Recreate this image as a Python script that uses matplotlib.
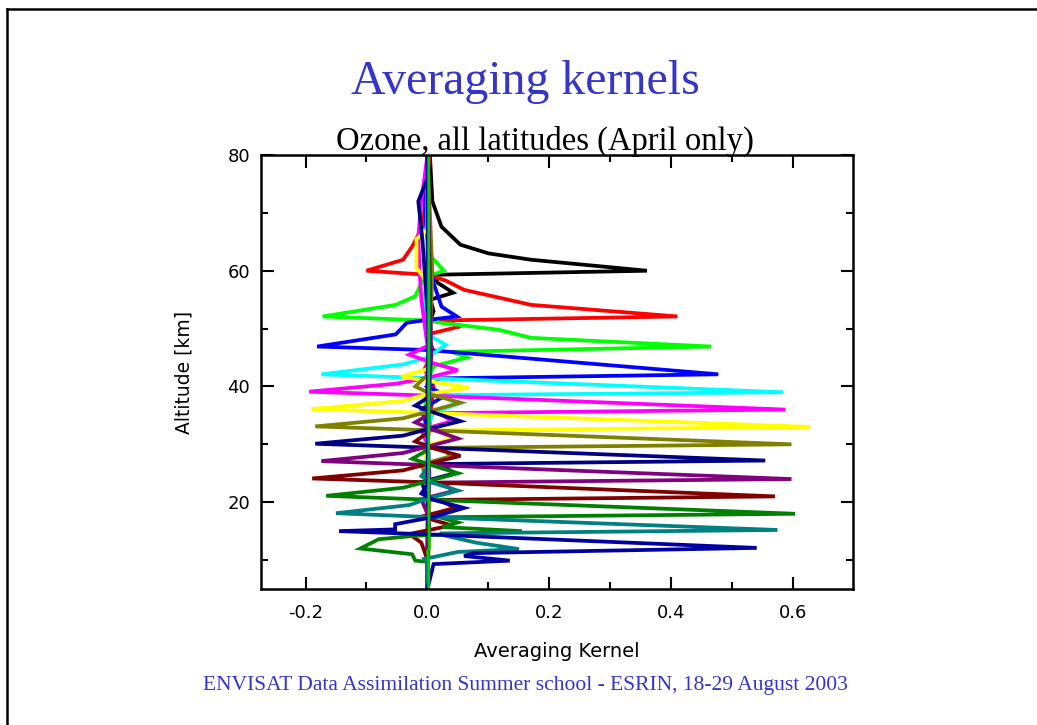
import matplotlib
matplotlib.use("Agg")
import matplotlib.pyplot as plt
from matplotlib.lines import Line2D
from matplotlib.ticker import MultipleLocator

plt.rcParams['axes.unicode_minus'] = False

# kernel colours, top kernel first
colors = ['black', 'red', '#00ff00', '#0000ff', '#00ffff', '#ff00ff', '#ffff00',
          '#808000', '#000080', '#800080', '#800000', '#008000', '#008080', '#0000a0']

# averaging kernels: altitude [km] and kernel value
alt_60 = [5, 20, 35, 45, 50, 53, 55, 56.2, 57.9, 59.3, 60, 61.9, 63, 64.5, 67.6, 72, 80]
ak_60 = [0.0, 0.002, 0.0, 0.005, 0.0, 0.01, 0.005, 0.042, 0.017, 0.01, 0.36, 0.17, 0.1, 0.054, 0.023, 0.008, 0.004]

alt_52 = [5, 20, 30, 40, 43, 46, 49, 50.4, 51.4, 52.1, 54.1, 56.7, 58.3, 59.3, 60, 61.9, 64.2, 67.6, 75, 80]
ak_52 = [0.0, 0.002, 0.0, 0.01, -0.005, 0.01, 0.0, 0.055, 0.02, 0.41, 0.17, 0.06, 0.03, 0.0, -0.1, -0.04, -0.025, -0.008, 0.0, 0.003]

alt_47 = [5, 15, 25, 35, 41, 43.5, 45, 46, 46.9, 48.4, 49.8, 51.0, 51.4, 52.1, 54.1, 55.6, 57.9, 59, 60, 62.5, 69, 80]
ak_47 = [0.0, 0.0, 0.002, -0.005, 0.0, 0.01, 0.065, 0.04, 0.465, 0.17, 0.117, 0.023, 0.0, -0.172, -0.052, -0.02, -0.01, 0.0, 0.027, 0.005, 0.0, 0.0]

alt_42 = [5, 15, 25, 33, 36, 38.5, 40, 41.4, 42.1, 46.3, 46.9, 49, 51, 51.4, 52.1, 53.8, 57.9, 65, 72, 80]
ak_42 = [0.0, 0.0, 0.003, 0.0, -0.01, 0.03, 0.0, 0.02, 0.477, 0.0, -0.181, -0.052, -0.034, -0.008, 0.048, 0.023, 0.01, 0.0, -0.005, 0.0]

alt_39 = [5, 15, 25, 30, 33, 35.5, 37, 38.5, 39, 41.4, 42.1, 43.8, 45, 47.2, 49, 55, 65, 80]
ak_39 = [0.0, 0.002, 0.0, -0.005, 0.0, 0.01, 0.05, 0.02, 0.583, 0.01, -0.174, -0.04, 0.0, 0.03, 0.0, -0.005, 0.0, 0.0]

alt_36 = [5, 15, 25, 30, 32.5, 34, 35.4, 36, 38.4, 39.1, 40.5, 41.5, 42.8, 44, 45.5, 47, 55, 60, 66, 72, 80]
ak_36 = [0.0, 0.0, 0.002, 0.0, -0.01, 0.04, 0.02, 0.587, 0.01, -0.194, -0.05, 0.0, 0.05, 0.01, -0.03, 0.0, -0.01, -0.013, -0.015, -0.01, 0.0]

alt_33 = [5, 15, 22, 27, 29.5, 31, 32.4, 33, 35.4, 36.1, 37.5, 38.7, 39.8, 40.8, 41.7, 43, 50, 58, 60.5, 65.5, 67, 80]
ak_33 = [0.0, 0.003, 0.0, 0.0, -0.01, 0.04, 0.02, 0.628, 0.01, -0.19, -0.04, 0.0, 0.068, 0.01, -0.043, 0.0, 0.005, 0.0, -0.018, -0.018, 0.0, 0.0]

alt_30 = [5, 15, 20, 24, 26.5, 28, 29.4, 30, 32.4, 33.1, 34.5, 35.6, 37.2, 38.5, 40, 42, 50, 60, 80]
ak_30 = [0.0, 0.0, 0.003, 0.0, -0.01, 0.04, 0.02, 0.597, 0.01, -0.184, -0.04, 0.0, 0.054, 0.01, -0.02, 0.0, 0.005, 0.008, 0.0]

alt_27 = [5, 15, 18, 21, 23.5, 25, 26.6, 27.2, 29.4, 30.1, 31.5, 32.6, 34, 35.5, 36.7, 38, 50, 65, 72, 76, 80]
ak_27 = [0.0, 0.002, 0.0, 0.0, -0.01, 0.045, 0.02, 0.554, 0.01, -0.184, -0.04, 0.0, 0.054, 0.01, -0.02, 0.0, 0.002, -0.008, -0.015, 0.0, 0.0]

alt_24 = [5, 12, 16, 18, 20.5, 22, 23.4, 24, 26.4, 27.1, 28.5, 29.6, 31, 32.5, 33.8, 35, 45, 60, 80]
ak_24 = [0.0, 0.0, 0.003, 0.0, -0.01, 0.045, 0.02, 0.597, 0.01, -0.174, -0.04, 0.0, 0.05, 0.01, -0.02, 0.0, 0.006, 0.004, 0.0]

alt_21 = [5, 10, 13, 14.5, 16, 17.5, 19, 20.4, 21, 23.4, 24.1, 25.5, 26.6, 28, 29.3, 30.5, 32, 45, 80]
ak_21 = [0.0, 0.0, -0.01, -0.03, 0.04, -0.01, 0.045, 0.02, 0.57, 0.01, -0.189, -0.04, 0.0, 0.054, 0.01, -0.02, 0.0, 0.003, 0.0]

alt_18 = [5, 9.7, 9.9, 11.0, 12.0, 13.6, 14.2, 15.0, 15.7, 16.5, 17.4, 18.0, 20.4, 21.1, 22.5, 23.6, 25, 26.3, 27.5, 29, 40, 80]
ak_18 = [0.0, 0.0, -0.02, -0.025, -0.11, -0.08, -0.02, 0.155, 0.025, 0.05, 0.02, 0.603, 0.01, -0.166, -0.04, 0.0, 0.05, 0.01, -0.025, 0.0, 0.003, 0.0]

alt_15 = [5, 9.5, 10.2, 11.4, 11.9, 13.0, 14.2, 14.6, 15.2, 17.4, 18.1, 19.5, 20.6, 22, 23.3, 24.5, 26, 40, 80]
ak_15 = [0.0, 0.0, -0.005, 0.05, 0.15, 0.08, 0.03, 0.02, 0.574, 0.01, -0.15, -0.03, 0.0, 0.05, 0.01, -0.01, 0.0, 0.003, 0.0]

alt_12 = [5, 9.3, 9.9, 10.7, 11.2, 12.1, 14.4, 15.0, 15.3, 16.2, 17.4, 19, 20.4, 21.5, 23, 40, 80]
ak_12 = [0.0, 0.01, 0.135, 0.06, 0.075, 0.54, 0.01, -0.145, -0.053, -0.053, 0.008, 0.06, 0.01, -0.01, 0.0, 0.002, 0.0]

# lowest kernel, almost flat along zero
alt_low = [5, 10, 11.5, 12, 20, 40, 60, 80]
ak_low = [0.002, 0.002, 0.0, 0.003, 0.002, 0.002, 0.002, 0.002]

altitudes = [alt_60, alt_52, alt_47, alt_42, alt_39, alt_36, alt_33,
             alt_30, alt_27, alt_24, alt_21, alt_18, alt_15, alt_12]
kernels = [ak_60, ak_52, ak_47, ak_42, ak_39, ak_36, ak_33,
           ak_30, ak_27, ak_24, ak_21, ak_18, ak_15, ak_12]

fig = plt.figure(figsize=(10.37, 7.25), dpi=100)
ax = fig.add_axes([0.2517, 0.1876, 0.5709, 0.5986])

for alt, ak, c in zip(altitudes, kernels, colors):
    ax.plot(ak, alt, color=c, lw=2.7, solid_joinstyle='miter')
ax.plot(ak_low, alt_low, color='#00cc00', lw=2.0)

ax.set_xlim(-0.273, 0.698)
ax.set_ylim(5, 80)
ax.xaxis.set_major_locator(MultipleLocator(0.2))
ax.xaxis.set_minor_locator(MultipleLocator(0.1))
ax.yaxis.set_major_locator(MultipleLocator(20))
ax.yaxis.set_minor_locator(MultipleLocator(10))
ax.tick_params(which='both', direction='in', top=True, right=True, width=1.5, colors='black')
ax.tick_params(which='major', length=9)
ax.tick_params(which='minor', length=5)
ax.tick_params(axis='x', which='major', pad=11, labelsize=13)
ax.tick_params(axis='y', which='major', pad=8, labelsize=13)
ax.xaxis.set_major_formatter(plt.FuncFormatter(lambda v, p: '%.1f' % v))
for s in ax.spines.values():
    s.set_linewidth(1.8)

ax.set_xlabel('Averaging Kernel', fontsize=14, labelpad=14)
ax.set_ylabel('Altitude [km]', fontsize=13.5, labelpad=24)

serif = ['Liberation Serif', 'DejaVu Serif']
fig.text(0.507, 0.8703, 'Averaging kernels', ha='center', va='baseline',
         fontsize=34.5, color='#3535c8', family=serif)
fig.text(0.5256, 0.7931, 'Ozone, all latitudes (April only)', ha='center', va='baseline',
         fontsize=23.5, color='black', family=serif)
fig.text(0.507, 0.0483, 'ENVISAT Data Assimilation Summer school - ESRIN, 18-29 August 2003',
         ha='center', va='baseline', fontsize=15.5, color='#3535c8', family=serif)

# slide frame (top and left edges)
fig.add_artist(Line2D([0.0068, 1.0], [0.9876, 0.9876], color='black', lw=1.8))
fig.add_artist(Line2D([0.0068, 0.0068], [0.0, 0.9876], color='black', lw=1.8))

fig.savefig('out.png', dpi=100)
